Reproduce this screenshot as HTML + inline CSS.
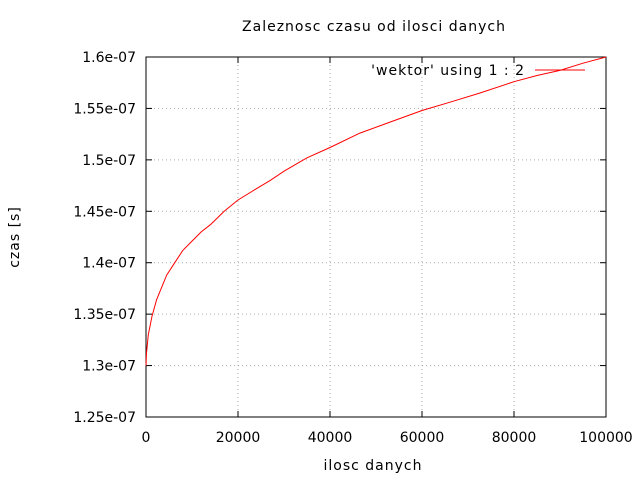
<!DOCTYPE html>
<html><head><meta charset="utf-8"><style>body{margin:0;background:#fff}svg{display:block;font-family:"DejaVu Sans","Liberation Sans",sans-serif}</style></head>
<body>
<svg id="c" width="640" height="480">
<text x="374" y="31" font-size="14" letter-spacing="1" text-anchor="middle">Zaleznosc czasu od ilosci danych</text>
<text x="373" y="470" font-size="14" letter-spacing="1" text-anchor="middle">ilosc danych</text>
<text x="19" y="237" font-size="14" letter-spacing="1" text-anchor="middle" transform="rotate(-90 19 237)">czas [s]</text>
<g id="grid"></g><g id="ticks"></g>
<rect x="146" y="57" width="460" height="360" fill="none" stroke="#000"/>
<text x="525" y="75" font-size="14" letter-spacing="1" text-anchor="end">'wektor' using 1 : 2</text>
<line x1="535" y1="70" x2="585" y2="70" stroke="#f00"/>
<path id="line" fill="none" stroke="#f00" stroke-width="1"/>
</svg>
<script>
const xs=[0,100,500,1300,2300,4500,6100,8000,10000,12000,14000,17000,20000,24000,27000,30000,35000,40000,46500,52000,60000,66000,72600,80000,85000,90000,95000,100000];
const ys=[1.30,1.312,1.33,1.348,1.364,1.388,1.399,1.412,1.421,1.43,1.437,1.45,1.461,1.472,1.48,1.489,1.502,1.512,1.526,1.535,1.548,1.556,1.565,1.576,1.582,1.587,1.594,1.60];
const xTicks=[0,20000,40000,60000,80000,100000];
const yTicks=[1.25,1.3,1.35,1.4,1.45,1.5,1.55,1.6];
const yLabels=["1.25e-07","1.3e-07","1.35e-07","1.4e-07","1.45e-07","1.5e-07","1.55e-07","1.6e-07"];
const X=v=>146+v/100000*460, Y=v=>417-(v-1.25)/0.35*360;
const NS="http://www.w3.org/2000/svg";
const g=document.getElementById('grid'),t=document.getElementById('ticks');
function mk(p,tag,a){const e=document.createElementNS(NS,tag);for(const k in a)e.setAttribute(k,a[k]);p.appendChild(e);return e;}
xTicks.forEach(v=>{const x=X(v);
 if(v>0&&v<100000){const l=mk(g,'line',{x1:x,x2:x,y1:57,y2:417,stroke:'#aaa','stroke-dasharray':'1,3'});
 
 }
 mk(t,'line',{x1:x,x2:x,y1:417,y2:411,stroke:'#000'});mk(t,'line',{x1:x,x2:x,y1:57,y2:63,stroke:'#000'});
 const s=mk(t,'text',{x:x,y:442,'font-size':14,'text-anchor':'middle'});s.textContent=v;
 
 });
yTicks.forEach((v,i)=>{const y=Y(v);
 if(i>0&&i<yTicks.length-1){const l=mk(g,'line',{x1:146,x2:606,y1:y,y2:y,stroke:'#aaa','stroke-dasharray':'1,3'});
 
 }
 mk(t,'line',{x1:146,x2:152,y1:y,y2:y,stroke:'#000'});mk(t,'line',{x1:606,x2:600,y1:y,y2:y,stroke:'#000'});
 const s=mk(t,'text',{x:136,y:y+5,'font-size':14,'text-anchor':'end'});s.textContent=yLabels[i];
 
 });
document.getElementById('line').setAttribute('d',xs.map((v,i)=>(i?'L':'M')+X(v).toFixed(1)+','+Y(ys[i]).toFixed(1)).join(''));
</script>
</body></html>
